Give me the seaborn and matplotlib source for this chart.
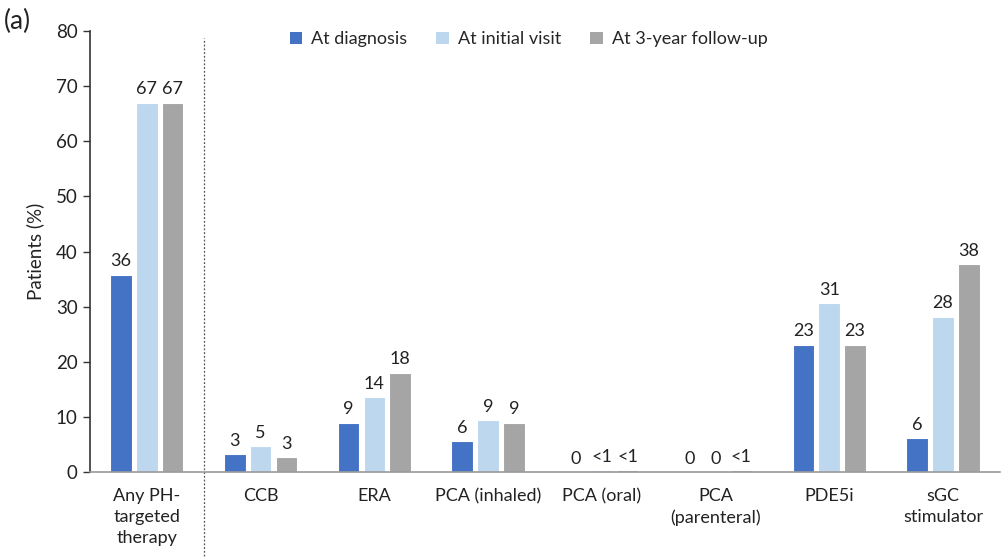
import matplotlib
matplotlib.use("Agg")
import matplotlib.pyplot as plt
import seaborn as sns
import pandas as pd

categories = ["Any PH-\ntargeted\ntherapy", "CCB", "ERA", "PCA (inhaled)", "PCA (oral)",
              "PCA\n(parenteral)", "PDE5i", "sGC\nstimulator"]
timepoints = ["At diagnosis", "At initial visit", "At 3-year follow-up"]
at_diagnosis = [35.8, 3.2, 8.9, 5.6, 0.0, 0.0, 23.1, 6.1]
at_initial_visit = [67.0, 4.7, 13.6, 9.4, 0.3, 0.0, 30.6, 28.2]
at_3yr_followup = [67.0, 2.7, 18.0, 8.9, 0.3, 0.3, 23.1, 37.7]
colors = ["#4472C4", "#BDD7EE", "#A5A5A5"]

series = [at_diagnosis, at_initial_visit, at_3yr_followup]
rows = []
for tp, vals in zip(timepoints, series):
    for cat, v in zip(categories, vals):
        rows.append({"category": cat, "value": v, "timepoint": tp})
df = pd.DataFrame(rows)

sns.set_style("white")
plt.rcParams["font.family"] = ["Lato", "DejaVu Sans"]

fig = plt.figure(figsize=(10.01, 5.6), dpi=100)
ax = fig.add_axes([0.0899, 0.157, 0.909, 0.7876])

sns.barplot(data=df, x="category", y="value", hue="timepoint", order=categories,
            hue_order=timepoints, palette=colors, saturation=1, width=0.68, gap=0.16,
            edgecolor="white", linewidth=0.8, errorbar=None, ax=ax, legend=True)


def fmt(v):
    if v == 0:
        return "0"
    if v < 1:
        return "<1"
    return f"{round(v):d}"


for container, vals in zip(ax.containers, series):
    ax.bar_label(container, labels=[fmt(v) for v in vals], padding=4, fontsize=13,
                 color="#222222")

ax.set_xlim(-0.5, len(categories) - 0.5)
ax.set_ylim(0, 80)
ax.set_yticks(range(0, 81, 10))
ax.tick_params(axis="y", labelsize=13.5, left=True, length=5, width=1, color="#333333",
               pad=4, labelcolor="#222222")
ax.tick_params(axis="x", labelsize=13, bottom=False, pad=8, labelcolor="#222222")
for lbl in ax.get_xticklabels():
    lbl.set_linespacing(1.4)
    lbl.set_verticalalignment("top")
ax.set_xlabel("")
ax.set_ylabel("Patients (%)", fontsize=13.5, color="#222222", labelpad=8)

for side in ["top", "right"]:
    ax.spines[side].set_visible(False)
ax.spines["left"].set_color("#333333")
ax.spines["left"].set_linewidth(1.2)
ax.spines["bottom"].set_color("#9a9a9a")
ax.spines["bottom"].set_linewidth(1.2)

# dotted separator between the overall bar group and individual drug classes
ax.plot([0.5, 0.5], [-0.19, 0.985], transform=ax.get_xaxis_transform(),
        color="#555555", linestyle=(0, (1.5, 1.5)), linewidth=0.9, clip_on=False)

leg = ax.legend(loc="upper center", bbox_to_anchor=(0.482, 1.036), ncol=3, frameon=False,
                fontsize=13, handlelength=0.7, handleheight=0.7, handletextpad=0.5,
                columnspacing=1.6)
for h in leg.legend_handles:
    h.set_edgecolor("none")

fig.text(0.004, 0.962, "(a)", fontsize=19, color="#222222", va="center", ha="left")

fig.savefig("out.png", dpi=100)
